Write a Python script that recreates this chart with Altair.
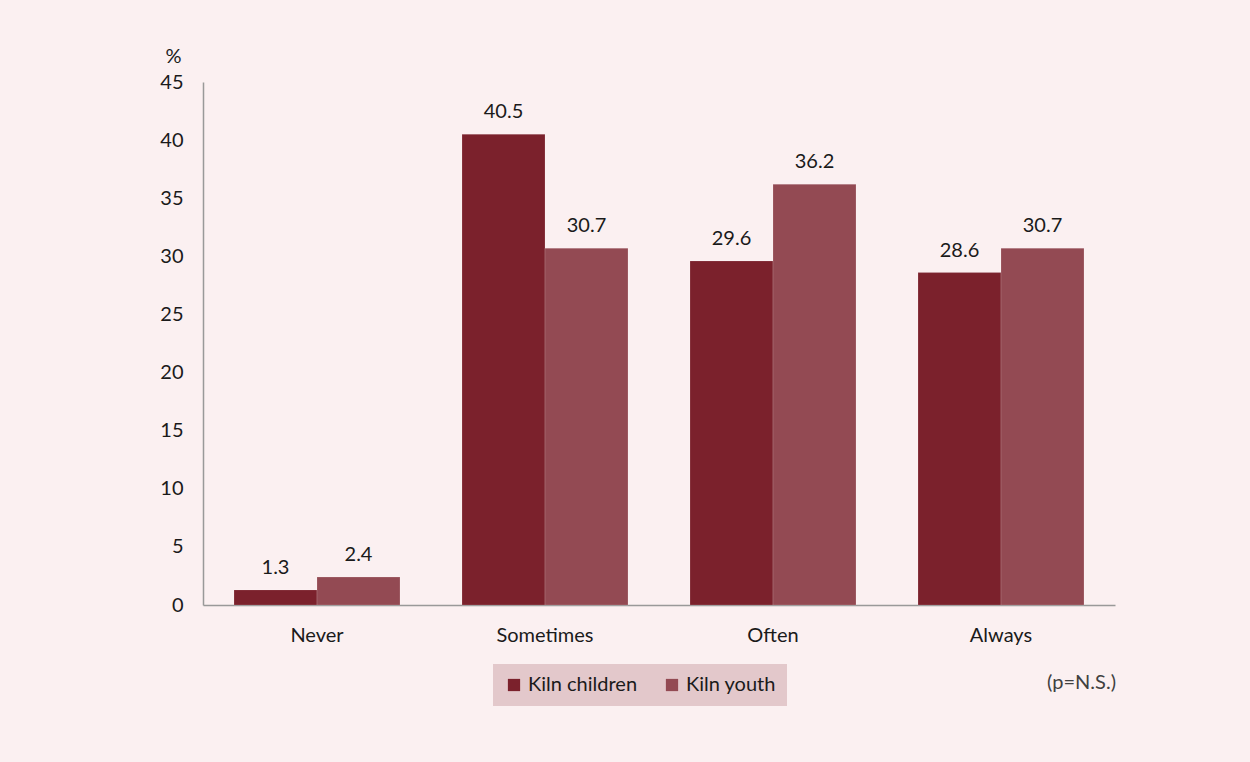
import altair as alt
import pandas as pd

categories = ["Never", "Sometimes", "Often", "Always"]
series = ["Kiln children", "Kiln youth"]
children = [1.3, 40.5, 29.6, 28.6]
youth = [2.4, 30.7, 36.2, 30.7]
colors = ["#7B212C", "#934A53"]

rows = []
for i, c in enumerate(categories):
    rows.append({"cat": c, "series": series[0], "value": children[i], "label": f"{children[i]:.1f}"})
    rows.append({"cat": c, "series": series[1], "value": youth[i], "label": f"{youth[i]:.1f}"})
df = pd.DataFrame(rows)

FONT = "Lato"
FS = 20

x = alt.X("cat:N", sort=categories, title=None,
          scale=alt.Scale(paddingInner=0.272, paddingOuter=0.136),
          axis=alt.Axis(labelAngle=0, labelFontSize=FS, labelPadding=20, ticks=False,
                        domainColor="#999999", domainWidth=1.5, labelColor="#1a1a1a", labelFont=FONT))
xoff = alt.XOffset("series:N", sort=series)
y = alt.Y("value:Q", scale=alt.Scale(domain=[0, 45], nice=False),
          axis=alt.Axis(values=list(range(0, 50, 5)), title="%", titleAngle=0, titleX=-30, titleY=-16,
                        titleFontSize=FS, titleFontWeight="normal", titleColor="#1a1a1a", titleFont=FONT,
                        labelFontSize=FS, labelPadding=20, ticks=False, grid=False,
                        domainColor="#999999", domainWidth=1.5, labelColor="#1a1a1a", labelFont=FONT))

bars = alt.Chart(df).mark_bar(stroke="#ffffff", strokeOpacity=0.3, strokeWidth=0.5).encode(
    x=x, xOffset=xoff, y=y,
    color=alt.Color("series:N", sort=series, scale=alt.Scale(domain=series, range=colors),
                    legend=alt.Legend(title=None, orient="none", direction="horizontal",
                                      legendX=290, legendY=582, fillColor="#E3C8CB", padding=11,
                                      symbolType="square", symbolSize=150, symbolStrokeWidth=0,
                                      labelFontSize=FS, labelFont=FONT, labelColor="#1a1a1a",
                                      columnPadding=24, labelLimit=300, symbolOpacity=1))
)

labels = alt.Chart(df).mark_text(baseline="bottom", dy=-12, fontSize=FS, font=FONT, color="#1a1a1a").encode(
    x=alt.X("cat:N", sort=categories), xOffset=xoff, y="value:Q", text="label:N"
)

note = alt.Chart(pd.DataFrame({"t": ["(p=N.S.)"]})).mark_text(
    align="right", baseline="middle", fontSize=FS, font=FONT, color="#404040"
).encode(x=alt.value(913), y=alt.value(601), text="t:N")

chart = alt.layer(bars, labels, note).properties(
    width=912, height=523,
    padding={"left": 203, "top": 82, "right": 135, "bottom": 157},
    autosize=alt.AutoSizeParams(type="none"),
    background="#FBF0F1",
).configure_view(stroke=None)

chart.save("out.html", embed_options={"renderer": "svg", "actions": False})
